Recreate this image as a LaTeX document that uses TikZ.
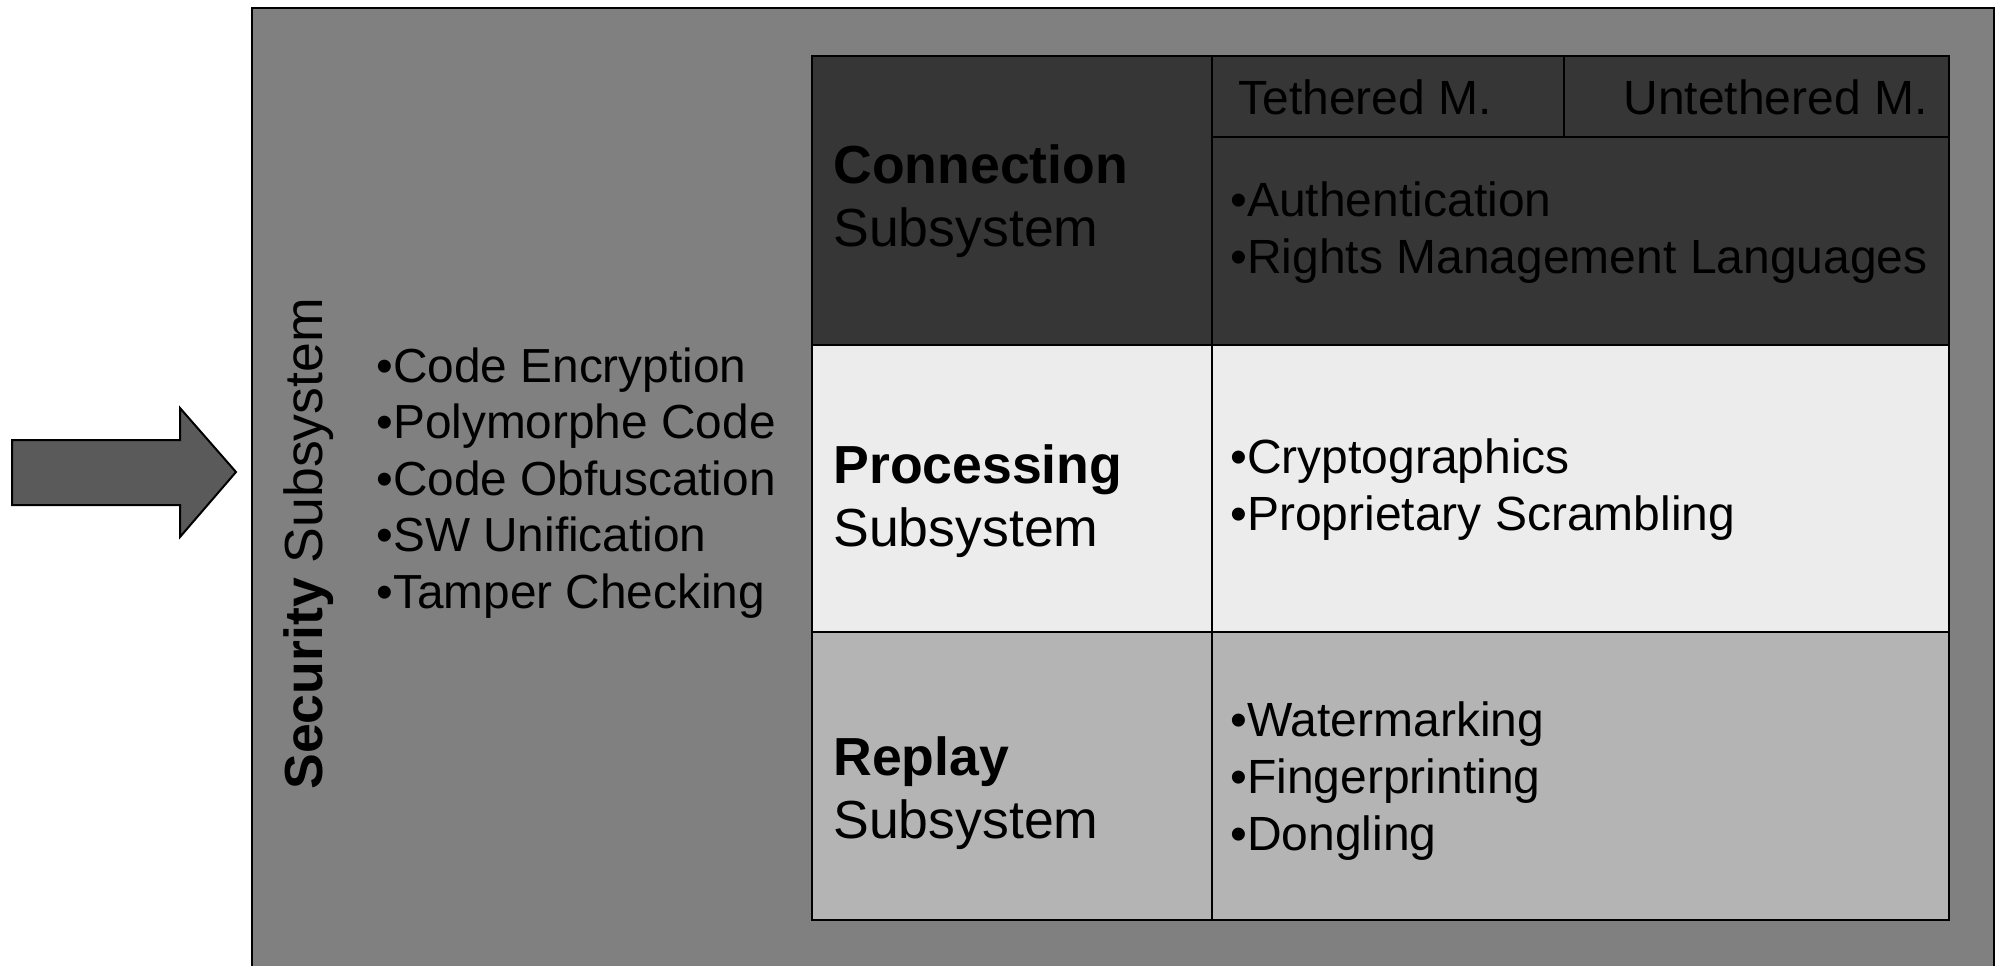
\documentclass[tikz,border=0pt]{standalone}
\usepackage{fontspec}
\setmainfont{Liberation Sans}
\definecolor{outergray}{RGB}{128,128,128}
\definecolor{darkrow}{RGB}{54,54,54}
\definecolor{lightrow}{RGB}{236,236,236}
\definecolor{midrow}{RGB}{180,180,180}
\definecolor{arrowfill}{RGB}{90,90,90}
\begin{document}
\begin{tikzpicture}[x=0.5pt,y=-0.5pt,
  frame/.style={draw=black,line width=1pt},
  gridline/.style={draw=black,line width=1pt},
  listtxt/.style={anchor=base west,inner sep=0pt,font=\fontsize{23.9}{28.25}\selectfont},
  celltxt/.style={anchor=base west,inner sep=0pt,font=\fontsize{24}{28.5}\selectfont},
  headtxt/.style={inner sep=0pt,font=\fontsize{24}{28}\selectfont},
  rowhead/.style={anchor=base west,inner sep=0pt,font=\fontsize{26.8}{31.5}\selectfont},
  vertical/.style={anchor=base west,inner sep=0pt,rotate=90,font=\fontsize{26.8}{31}\selectfont}]
\useasboundingbox (0,0) rectangle (1996,965);
\begin{scope}
\clip (0,0) rectangle (1996,965);
\path[frame,fill=outergray] (252,8) rectangle (1994,1000);
\end{scope}
% arrow
\path[frame,fill=arrowfill,line join=miter] (12,440) -- (180,440) -- (180,408) -- (236,472) -- (180,537) -- (180,505) -- (12,505) -- cycle;
% table rows
\fill[darkrow] (812,56) rectangle (1949,345);
\fill[lightrow] (812,345) rectangle (1949,632);
\fill[midrow] (812,632) rectangle (1949,920);
\path[gridline] (812,56) rectangle (1949,920);
\path[gridline] (1212,56) -- (1212,920);
\path[gridline] (812,345) -- (1949,345);
\path[gridline] (812,632) -- (1949,632);
\path[gridline] (1212,137) -- (1949,137);
\path[gridline] (1564,56) -- (1564,137);
% security subsystem
\node[vertical] (sec) at (322,790) {\textbf{Security} Subsystem};
\node[listtxt] (seclist) at (376,382) {\begin{tabular}[t]{@{}l@{}}•Code Encryption\\•Polymorphe Code\\•Code Obfuscation\\•SW Unification\\•Tamper Checking\end{tabular}};
% row headers
\node[rowhead] (conn) at (833,183) {\begin{tabular}[t]{@{}l@{}}\textbf{Connection}\\Subsystem\end{tabular}};
\node[rowhead] (proc) at (833,483) {\begin{tabular}[t]{@{}l@{}}\textbf{Processing}\\Subsystem\end{tabular}};
\node[rowhead] (repl) at (833,775) {\begin{tabular}[t]{@{}l@{}}\textbf{Replay}\\Subsystem\end{tabular}};
% header cells
\node[headtxt,anchor=base west] (teth) at (1238,114) {Tethered M.};
\node[headtxt,anchor=base east] (unteth) at (1928,114) {Untethered M.};
% cell lists
\node[celltxt] (connlist) at (1230,216) {\begin{tabular}[t]{@{}l@{}}•Authentication\\•Rights Management Languages\end{tabular}};
\node[celltxt] (proclist) at (1230,473) {\begin{tabular}[t]{@{}l@{}}•Cryptographics\\•Proprietary Scrambling\end{tabular}};
\node[celltxt] (repllist) at (1230,736) {\begin{tabular}[t]{@{}l@{}}•Watermarking\\•Fingerprinting\\•Dongling\end{tabular}};
\end{tikzpicture}
\end{document}
